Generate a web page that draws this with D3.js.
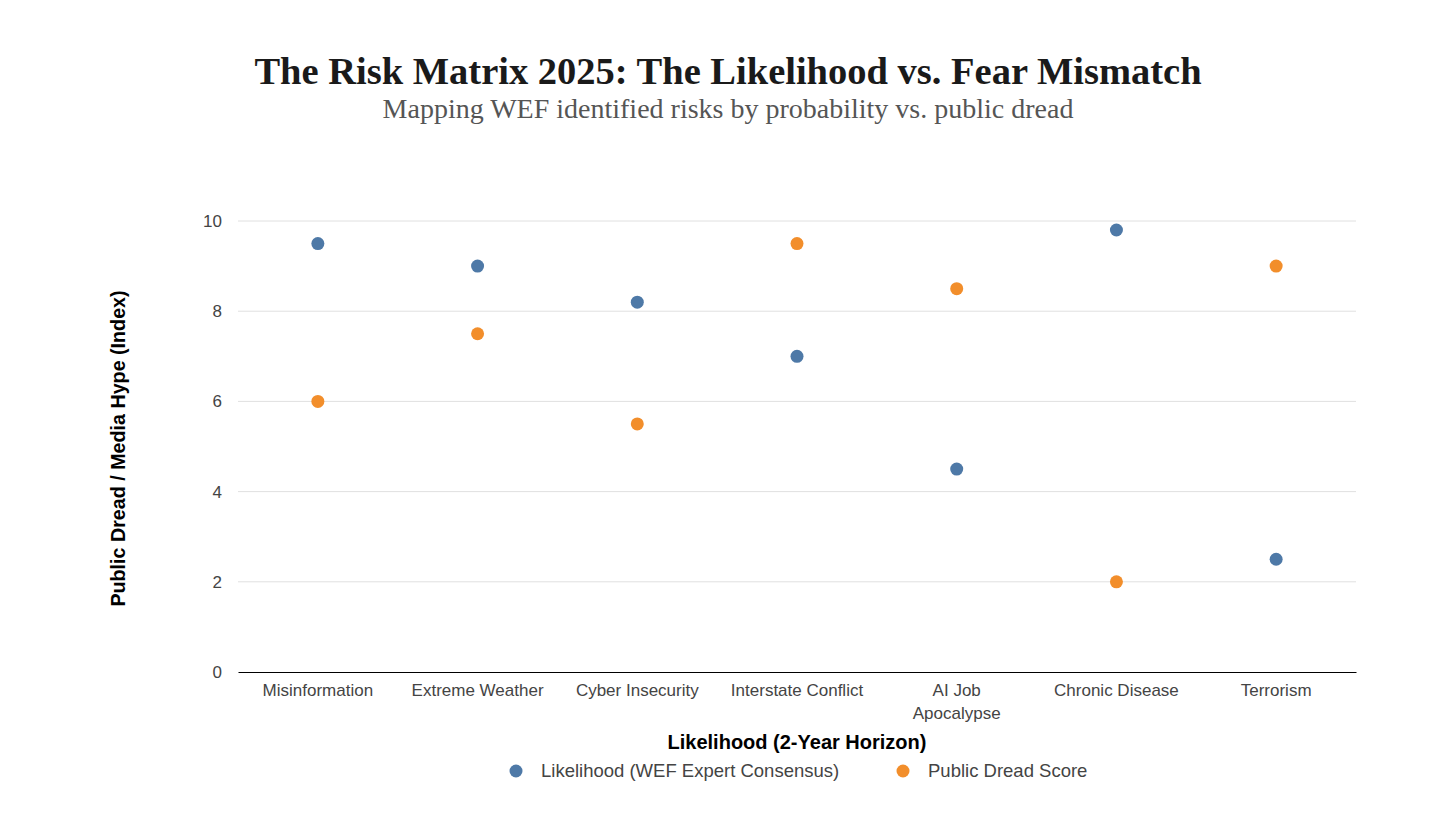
<!DOCTYPE html>
<html>
<head>
<meta charset="utf-8">
<script src="https://cdn.jsdelivr.net/npm/d3@7"></script>
<style>
  body { margin: 0; background: #fff; }
  svg { display: block; }
</style>
</head>
<body>
<script>
// chart values
const risks = ["Misinformation", "Extreme Weather", "Cyber Insecurity", "Interstate Conflict", "AI Job Apocalypse", "Chronic Disease", "Terrorism"];
const likelihood = [9.5, 9.0, 8.2, 7.0, 4.5, 9.8, 2.5];
const dread = [6.0, 7.5, 5.5, 9.5, 8.5, 2.0, 9.0];
const seriesNames = ["Likelihood (WEF Expert Consensus)", "Public Dread Score"];
const yTicks = [0, 2, 4, 6, 8, 10];

const W = 1456, H = 819;
const margin = { top: 221, right: 100, bottom: 147, left: 238 };
const width = W - margin.left - margin.right;
const height = H - margin.top - margin.bottom;

const svg = d3.select("body").append("svg")
    .attr("width", W)
    .attr("height", H);

const color = d3.scaleOrdinal().domain(seriesNames).range(["#4e79a7", "#f28e2b"]);

// titles
svg.append("text")
    .attr("x", 728).attr("y", 84)
    .attr("text-anchor", "middle")
    .style("font-family", "'Liberation Serif', 'DejaVu Serif', serif")
    .style("font-weight", "bold")
    .style("font-size", "38.5px")
    .style("fill", "#1a1a1a")
    .text("The Risk Matrix 2025: The Likelihood vs. Fear Mismatch");

svg.append("text")
    .attr("x", 728).attr("y", 118)
    .attr("text-anchor", "middle")
    .style("font-family", "'Liberation Serif', 'DejaVu Serif', serif")
    .style("font-size", "28px")
    .style("fill", "#555")
    .text("Mapping WEF identified risks by probability vs. public dread");

const g = svg.append("g").attr("transform", `translate(${margin.left},${margin.top})`);

const x = d3.scaleBand().domain(risks).range([0, width]);
const y = d3.scaleLinear().domain([0, 10]).range([height, 0]);

// gridlines
g.append("g")
    .selectAll("line")
    .data(yTicks.filter(d => d > 0))
    .join("line")
    .attr("x1", 0).attr("x2", width)
    .attr("y1", d => y(d)).attr("y2", d => y(d))
    .attr("stroke", "#e0e0e0");

// y axis labels
const yAxis = g.append("g").call(d3.axisLeft(y).tickValues(yTicks).tickSize(0).tickPadding(16));
yAxis.select(".domain").remove();
yAxis.selectAll("text")
    .style("font-family", "'Liberation Sans', Arial, sans-serif")
    .style("font-size", "17px")
    .style("fill", "#444");

// x axis
const xAxis = g.append("g")
    .attr("transform", `translate(0,${height})`)
    .call(d3.axisBottom(x).tickSize(0).tickPadding(12));
xAxis.select(".domain").attr("stroke", "#000").attr("stroke-width", 1.2);
xAxis.selectAll("text")
    .style("font-family", "'Liberation Sans', Arial, sans-serif")
    .style("font-size", "17px")
    .style("fill", "#444")
    .each(function(d) {
        if (d === "AI Job Apocalypse") {
            const t = d3.select(this);
            t.text(null);
            t.append("tspan").attr("x", 0).attr("dy", "0.71em").text("AI Job");
            t.append("tspan").attr("x", 0).attr("dy", "1.35em").text("Apocalypse");
            t.attr("dy", null);
        }
    });

// axis titles
g.append("text")
    .attr("x", width / 2).attr("y", height + 77)
    .attr("text-anchor", "middle")
    .style("font-family", "'Liberation Sans', Arial, sans-serif")
    .style("font-weight", "bold")
    .style("font-size", "20px")
    .style("fill", "#000")
    .text("Likelihood (2-Year Horizon)");

g.append("text")
    .attr("transform", `translate(${118 - margin.left},${height / 2 + 2}) rotate(-90)`)
    .attr("text-anchor", "middle")
    .attr("dy", "0.35em")
    .style("font-family", "'Liberation Sans', Arial, sans-serif")
    .style("font-weight", "bold")
    .style("font-size", "19.7px")
    .style("fill", "#000")
    .text("Public Dread / Media Hype (Index)");

// points
const series = [likelihood, dread];
series.forEach((vals, si) => {
    g.append("g")
        .selectAll("circle")
        .data(risks)
        .join("circle")
        .attr("cx", d => x(d) + x.bandwidth() / 2)
        .attr("cy", (d, i) => y(vals[i]))
        .attr("r", 6.5)
        .attr("fill", color(seriesNames[si]));
});

// legend
const legend = svg.append("g").attr("transform", "translate(0,771)");
const legX = [516, 903];
seriesNames.forEach((name, i) => {
    legend.append("circle")
        .attr("cx", legX[i]).attr("cy", 0)
        .attr("r", 6.5)
        .attr("fill", color(name));
    legend.append("text")
        .attr("x", legX[i] + 25).attr("y", 0)
        .attr("dy", "0.35em")
        .style("font-family", "'Liberation Sans', Arial, sans-serif")
        .style("font-size", "18.5px")
        .style("fill", "#444")
        .text(name);
});
</script>
</body>
</html>
